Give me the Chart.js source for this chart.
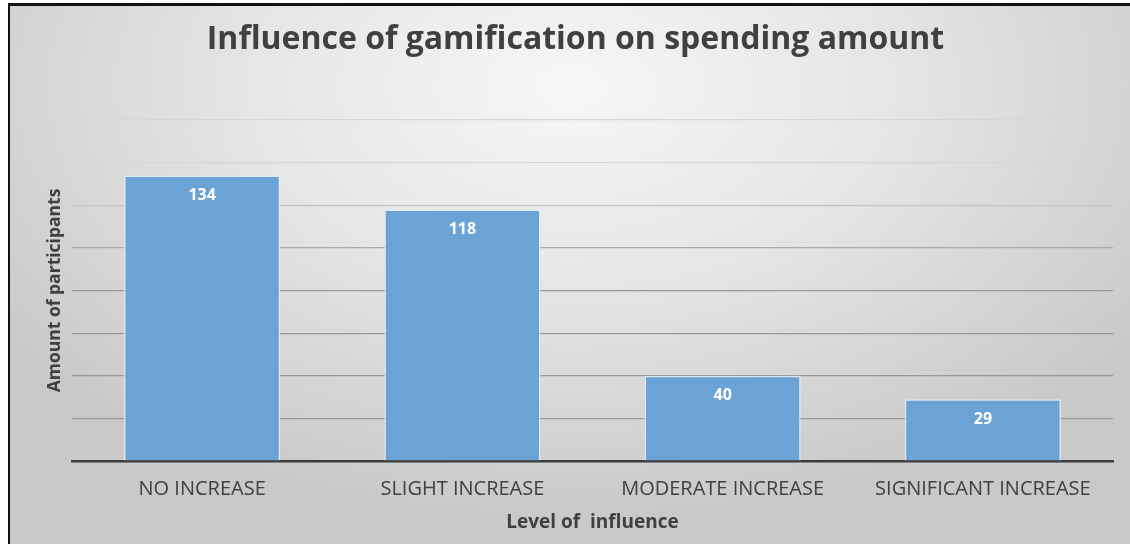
<!DOCTYPE html>
<html>
<head>
<meta charset="utf-8">
<script src="https://cdn.jsdelivr.net/npm/chart.js@4/dist/chart.umd.min.js"></script>
<style>
  html, body { margin: 0; padding: 0; }
  body {
    width: 1130px;
    height: 544px;
    overflow: hidden;
    background: #ffffff;
  }
  #frame {
    position: absolute;
    left: 8px;
    top: 3px;
    width: 1120px;
    height: 538px;
    border-top: 3px solid #111;
    border-left: 2px solid #111;
    background: radial-gradient(ellipse 62% 80% at 50% 15%, #f6f6f6 0%, #e6e6e6 45%, #c9c9c9 100%);
  }
  canvas { display: block; }
</style>
</head>
<body>
<div id="frame"><canvas id="chart" width="1120" height="538"></canvas></div>
<script>
const categories = ['NO INCREASE', 'SLIGHT INCREASE', 'MODERATE INCREASE', 'SIGNIFICANT INCREASE'];
const participants = [134, 118, 40, 29];
const yMax = 160;
const yStep = 20;

const textColor = '#404040';
const fontFamily = '"Open Sans", "Liberation Sans", sans-serif';

// gridlines look fainter towards the top of the plot
const gridColor = (ctx) => {
  const v = ctx.tick ? ctx.tick.value : 0;
  if (v >= 140) return '#d6d6d6';
  if (v >= 120) return '#c4c4c4';
  if (v >= 100) return '#ababab';
  return '#989898';
};

// values written inside the top of each bar
const barValues = {
  id: 'barValues',
  afterDatasetsDraw(chart) {
    const { ctx } = chart;
    const meta = chart.getDatasetMeta(0);
    ctx.save();
    ctx.fillStyle = '#ffffff';
    ctx.font = `bold 16px ${fontFamily}`;
    ctx.textAlign = 'center';
    ctx.textBaseline = 'middle';
    meta.data.forEach((bar, i) => {
      ctx.fillText(String(chart.data.datasets[0].data[i]), bar.x, bar.y + 20);
    });
    ctx.restore();
  }
};

new Chart(document.getElementById('chart'), {
  type: 'bar',
  data: {
    labels: categories,
    datasets: [{
      data: participants,
      backgroundColor: '#6ba3d7',
      borderColor: 'rgba(222,236,250,0.9)',
      borderWidth: 1.5,
      barPercentage: 0.6,
      categoryPercentage: 1.0,
    }],
  },
  options: {
    responsive: false,
    animation: false,
    layout: { padding: { left: 28, right: 17, top: 0, bottom: 9.6 } },
    plugins: {
      legend: { display: false },
      tooltip: { enabled: false },
      title: {
        display: true,
        text: 'Influence of gamification on spending amount',
        color: textColor,
        font: { family: fontFamily, size: 32, weight: 'bold' },
        padding: { top: 14.8, bottom: 60.8 },
      },
    },
    scales: {
      x: {
        grid: { display: false, drawTicks: false },
        border: { display: true, color: '#3c3c3c', width: 2.5 },
        ticks: {
          color: textColor,
          font: { family: fontFamily, size: 20 },
          padding: 16,
          maxRotation: 0,
        },
        title: {
          display: true,
          text: 'Level of  influence',
          color: textColor,
          font: { family: fontFamily, size: 19, weight: 'bold' },
          padding: { top: -5.4, bottom: 0 },
        },
      },
      y: {
        min: 0,
        max: yMax,
        ticks: { display: false, stepSize: yStep },
        grid: { color: gridColor, lineWidth: 1.2, drawTicks: false },
        border: { display: false },
        title: {
          display: true,
          text: 'Amount of participants',
          color: textColor,
          font: { family: fontFamily, size: 17.5, weight: 'bold' },
          padding: 6.5,
        },
      },
    },
  },
  plugins: [barValues],
});
</script>
</body>
</html>
